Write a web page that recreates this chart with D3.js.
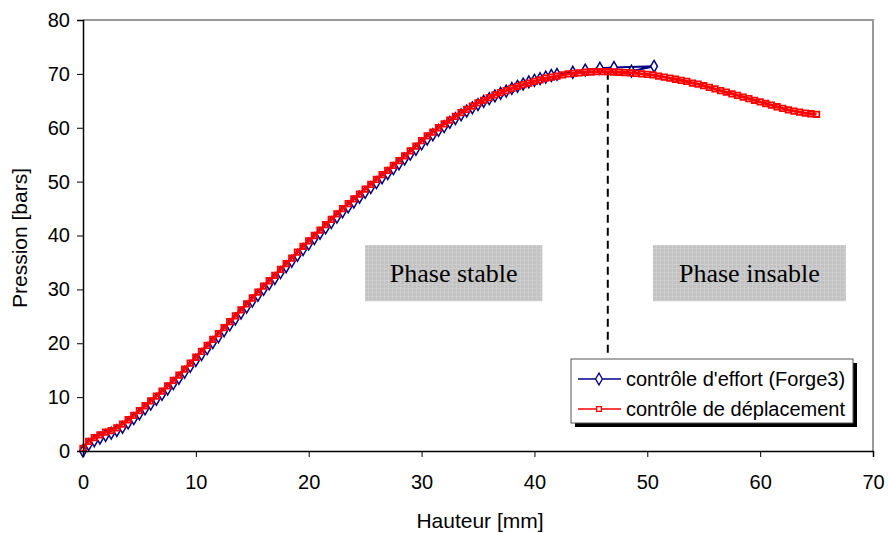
<!DOCTYPE html>
<html>
<head>
<meta charset="utf-8">
<script src="https://cdn.jsdelivr.net/npm/d3@7"></script>
<style>
  body { margin: 0; background: #fff; }
  text { font-family: "Liberation Sans", Arial, sans-serif; }
</style>
</head>
<body>
<div class="chart"></div>
<script>
// deplacement control (red)
var redX = [0, 0.5, 1, 1.5, 2, 2.5, 3, 3.5, 4, 4.5, 5, 5.5, 6, 6.5, 7, 7.5, 8, 8.5, 9, 9.5,
  10, 10.5, 11, 11.5, 12, 12.5, 13, 13.5, 14, 14.5, 15, 15.5, 16, 16.5, 17, 17.5, 18, 18.5, 19, 19.5,
  20, 20.5, 21, 21.5, 22, 22.5, 23, 23.5, 24, 24.5, 25, 25.5, 26, 26.5, 27, 27.5, 28, 28.5, 29, 29.5,
  30, 30.5, 31, 31.5, 32, 32.5, 33, 33.5, 34, 34.5, 35, 35.5, 36, 36.5, 37, 37.5, 38, 38.5, 39, 39.5,
  40, 40.5, 41, 41.5, 42, 42.5, 43, 43.5, 44, 44.5, 45, 45.5, 46, 46.5, 47, 47.5, 48, 48.5, 49, 49.5,
  50, 50.5, 51, 51.5, 52, 52.5, 53, 53.5, 54, 54.5, 55, 55.5, 56, 56.5, 57, 57.5, 58, 58.5, 59, 59.5,
  60, 60.5, 61, 61.5, 62, 62.5, 63, 63.5, 64, 64.5, 65]
var redY = [0.5, 1.8, 2.5, 3.0, 3.5, 3.8, 4.3, 5.0, 5.8, 6.6, 7.5, 8.4, 9.3, 10.2, 11.1, 12.1, 13.1, 14.1, 15.2, 16.3,
  17.4, 18.5, 19.6, 20.7, 21.8, 22.9, 24.0, 25.1, 26.2, 27.3, 28.4, 29.5, 30.6, 31.6, 32.6, 33.7, 34.8, 35.8, 36.9, 38.0,
  39.0, 40.0, 41.0, 42.0, 43.0, 44.0, 45.0, 45.9, 46.8, 47.7, 48.6, 49.5, 50.4, 51.3, 52.1, 53.0, 53.9, 54.8, 55.7, 56.6,
  57.6, 58.5, 59.2, 60.0, 60.7, 61.4, 62.1, 62.8, 63.4, 64.0, 64.6, 65.1, 65.6, 66.1, 66.5, 66.9, 67.3, 67.7, 68.0, 68.3,
  68.6, 68.9, 69.2, 69.4, 69.6, 69.8, 70.0, 70.1, 70.2, 70.3, 70.35, 70.4, 70.4, 70.4, 70.35, 70.3, 70.25, 70.2, 70.1, 70.0,
  69.9, 69.8, 69.6, 69.4, 69.2, 69.0, 68.8, 68.6, 68.3, 68.1, 67.8, 67.5, 67.2, 66.9, 66.6, 66.3, 66.0, 65.7, 65.4, 65.1,
  64.8, 64.5, 64.2, 63.9, 63.6, 63.3, 63.1, 62.9, 62.7, 62.6, 62.5]

// effort control (Forge3, blue)
var blueX = [0, 0.5, 1, 1.5, 2, 2.5, 3, 3.5, 4, 4.5, 5, 5.5, 6, 6.5, 7, 7.5, 8, 8.5, 9, 9.5,
  10, 10.5, 11, 11.5, 12, 12.5, 13, 13.5, 14, 14.5, 15, 15.5, 16, 16.5, 17, 17.5, 18, 18.5, 19, 19.5,
  20, 20.5, 21, 21.5, 22, 22.5, 23, 23.5, 24, 24.5, 25, 25.5, 26, 26.5, 27, 27.5, 28, 28.5, 29, 29.5,
  30, 30.5, 31, 31.5, 32, 32.5, 33, 33.5, 34, 34.5, 35, 35.5, 36, 36.5, 37, 37.5, 38, 38.5, 39, 39.5,
  40, 40.5, 41, 41.5, 42, 43.4, 44.5, 45.8, 47.05, 50.6, 48.6]
var blueY = [0.0, 1.2, 1.9, 2.4, 2.9, 3.3, 3.8, 4.4, 5.2, 6.0, 6.9, 7.8, 8.7, 9.6, 10.5, 11.5, 12.5, 13.5, 14.6, 15.7,
  16.8, 17.9, 19.0, 20.1, 21.2, 22.3, 23.4, 24.5, 25.6, 26.7, 27.8, 28.9, 30.0, 31.0, 32.0, 33.1, 34.2, 35.2, 36.3, 37.4,
  38.4, 39.4, 40.4, 41.4, 42.4, 43.4, 44.4, 45.3, 46.2, 47.1, 48.0, 48.9, 49.8, 50.7, 51.5, 52.4, 53.3, 54.2, 55.1, 56.0,
  57.0, 57.9, 58.7, 59.5, 60.2, 61.0, 61.7, 62.4, 63.1, 63.7, 64.3, 64.9, 65.4, 65.9, 66.4, 66.8, 67.3, 67.7, 68.1, 68.5,
  68.8, 69.1, 69.4, 69.7, 69.9, 70.3, 70.7, 71.05, 71.2, 71.4, 70.5]

var xTicks = [0, 10, 20, 30, 40, 50, 60, 70]
var yTicks = [0, 10, 20, 30, 40, 50, 60, 70, 80]
var seriesNames = ["contr\u00f4le d'effort (Forge3)", 'contr\u00f4le de d\u00e9placement']
var phaseLabels = ['Phase stable', 'Phase insable']

var W = 888, H = 534
var x = d3.scaleLinear().domain([0, 70]).range([83, 873])
var y = d3.scaleLinear().domain([0, 80]).range([451, 20])

var svg = d3.select('.chart').append('svg')
  .attr('width', W)
  .attr('height', H)

// light grid texture of the grey boxes
var pat = svg.append('defs').append('pattern')
  .attr('id', 'grey')
  .attr('width', 4).attr('height', 4)
  .attr('patternUnits', 'userSpaceOnUse')
pat.append('rect').attr('width', 4).attr('height', 4).attr('fill', '#c2c2c2')
pat.append('path').attr('d', 'M0,0.5H4M0.5,0V4').attr('stroke', '#cdcdcd').attr('stroke-width', 1)

// frame, top and right side
svg.append('path')
  .attr('d', 'M' + x(0) + ',' + y(80) + 'H' + x(70) + 'V' + y(0))
  .attr('fill', 'none')
  .attr('stroke', '#9a9a9a')
  .attr('stroke-width', 2)

// phase boxes
var boxes = [[25.0, 40.7], [50.5, 67.6]]
boxes.forEach(function (b, i) {
  svg.append('rect')
    .attr('x', x(b[0]))
    .attr('y', y(38.2))
    .attr('width', x(b[1]) - x(b[0]))
    .attr('height', y(27.8) - y(38.2))
    .attr('fill', 'url(#grey)')
  svg.append('text')
    .attr('x', (x(b[0]) + x(b[1])) / 2)
    .attr('y', y(33) + 9)
    .attr('text-anchor', 'middle')
    .style('font-family', '"Liberation Serif", "Times New Roman", serif')
    .style('font-size', '26px')
    .text(phaseLabels[i])
})

// dashed peak line
svg.append('line')
  .attr('x1', x(46.5)).attr('x2', x(46.5))
  .attr('y1', y(70.4)).attr('y2', y(17.4))
  .attr('stroke', '#000')
  .attr('stroke-width', 2)
  .attr('stroke-dasharray', '8,5')

var line = d3.line().x(function (d) { return x(d[0]) }).y(function (d) { return y(d[1]) })
var blue = blueX.map(function (v, i) { return [v, blueY[i]] })
var red = redX.map(function (v, i) { return [v, redY[i]] })

var diamond = d3.symbol().type(d3.symbolDiamond).size(40)
var square = d3.symbol().type(d3.symbolSquare).size(30)

svg.append('path').datum(blue)
  .attr('d', line)
  .attr('fill', 'none')
  .attr('stroke', '#000080')
  .attr('stroke-width', 2)
svg.selectAll('.bd').data(blue).enter().append('path')
  .attr('class', 'bd')
  .attr('d', diamond)
  .attr('transform', function (d) { return 'translate(' + x(d[0]) + ',' + y(d[1]) + ')' })
  .attr('fill', '#fff')
  .attr('stroke', '#000080')
  .attr('stroke-width', 1.5)

svg.append('path').datum(red)
  .attr('d', line)
  .attr('fill', 'none')
  .attr('stroke', '#ff0000')
  .attr('stroke-width', 3)
svg.selectAll('.rs').data(red).enter().append('path')
  .attr('class', 'rs')
  .attr('d', square)
  .attr('transform', function (d) { return 'translate(' + x(d[0]) + ',' + y(d[1]) + ')' })
  .attr('fill', 'none')
  .attr('stroke', '#ff0000')
  .attr('stroke-width', 1.8)

// axes
var xAxis = svg.append('g')
  .attr('transform', 'translate(0,' + y(0) + ')')
  .call(d3.axisBottom(x).tickValues(xTicks).tickSizeOuter(0).tickSize(6).tickPadding(18))
var yAxis = svg.append('g')
  .attr('transform', 'translate(' + x(0) + ',0)')
  .call(d3.axisLeft(y).tickValues(yTicks).tickSizeOuter(0).tickSize(6).tickPadding(7))
;[xAxis, yAxis].forEach(function (a) {
  a.select('.domain').attr('stroke', '#000').attr('stroke-width', 1.5)
  a.selectAll('.tick line').attr('stroke', '#000')
  a.selectAll('text').style('font-family', '"Liberation Sans", Arial, sans-serif').style('font-size', '20px').attr('fill', '#000')
})

svg.append('text')
  .attr('x', 480).attr('y', 528)
  .attr('text-anchor', 'middle')
  .style('font-size', '21px')
  .text('Hauteur [mm]')
svg.append('text')
  .attr('transform', 'translate(27,238) rotate(-90)')
  .attr('text-anchor', 'middle')
  .style('font-size', '21px')
  .text('Pression [bars]')

// legend
var lg = svg.append('g').attr('transform', 'translate(571,359)')
lg.append('rect').attr('x', 4).attr('y', 4).attr('width', 282).attr('height', 64).attr('fill', '#000')
lg.append('rect').attr('width', 282).attr('height', 64).attr('fill', '#fff').attr('stroke', '#555').attr('stroke-width', 1)
var rows = [{c: '#000080', sym: diamond}, {c: '#ff0000', sym: d3.symbol().type(d3.symbolSquare).size(22)}]
rows.forEach(function (r, i) {
  var cy = 20 + i * 30
  lg.append('line').attr('x1', 7).attr('x2', 50).attr('y1', cy).attr('y2', cy)
    .attr('stroke', r.c).attr('stroke-width', 1.5)
  lg.append('path').attr('d', r.sym).attr('transform', 'translate(28,' + cy + ')')
    .attr('fill', '#fff').attr('stroke', r.c).attr('stroke-width', 1.3)
  lg.append('text').attr('x', 55).attr('y', cy + 7)
    .style('font-size', '20px')
    .text(seriesNames[i])
})
</script>
</body>
</html>
